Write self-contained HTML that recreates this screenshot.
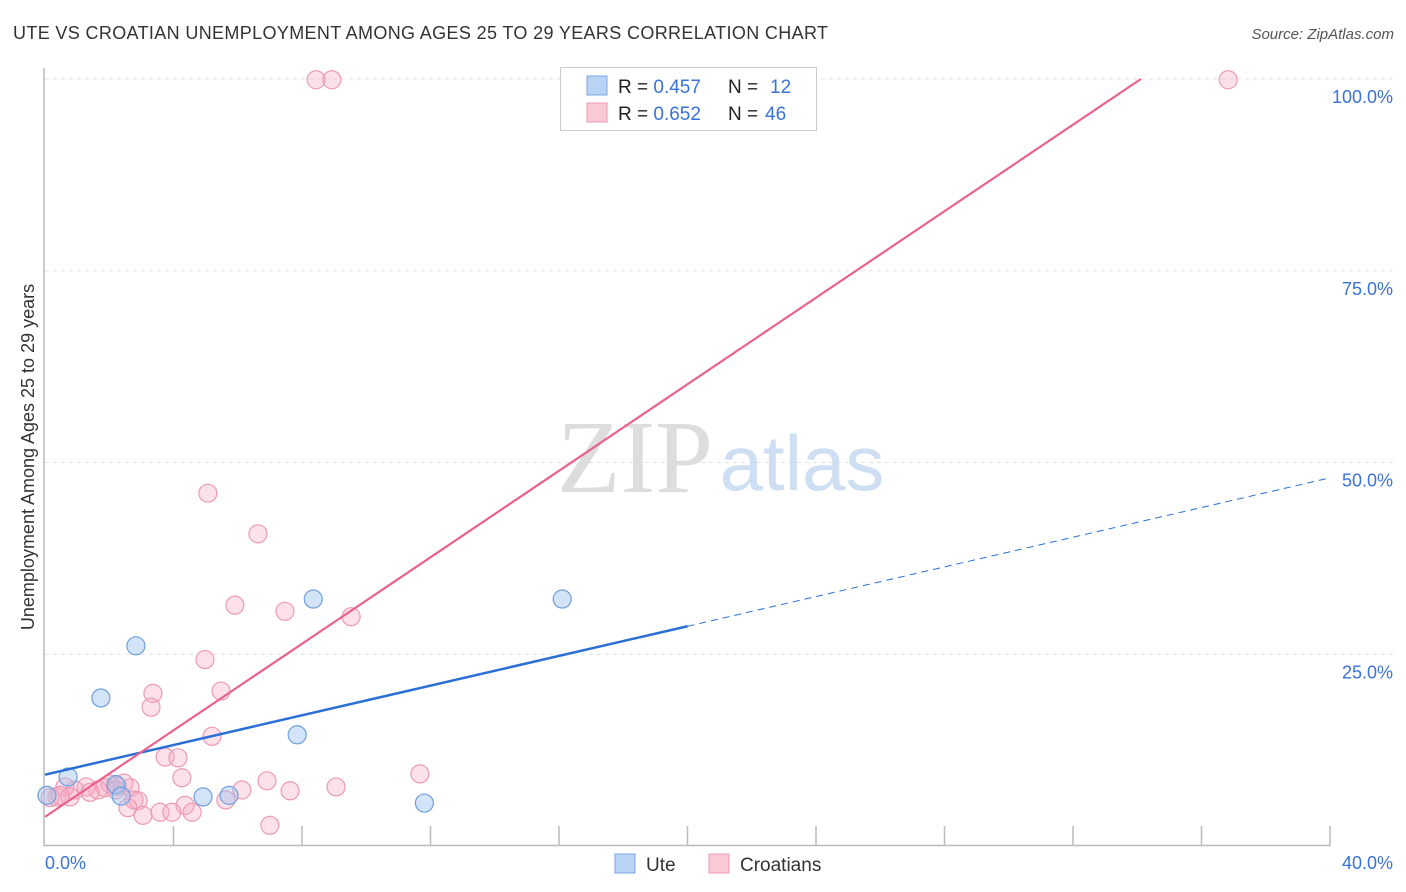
<!DOCTYPE html>
<html><head><meta charset="utf-8"><style>
body{margin:0;background:#fff;font-family:"Liberation Sans",sans-serif;}
svg{display:block}
</style></head><body>
<svg id="c" width="1406" height="892" xmlns="http://www.w3.org/2000/svg">
<text x="13" y="39" font-size="18" fill="#333" textLength="815">UTE VS CROATIAN UNEMPLOYMENT AMONG AGES 25 TO 29 YEARS CORRELATION CHART</text>
<text x="1394" y="39" font-size="15" fill="#555" font-style="italic" text-anchor="end">Source: ZipAtlas.com</text>
<g id="grid"></g>
<g>
<text x="635" y="492" font-size="104" font-family="Liberation Serif,serif" fill="#ddd" text-anchor="middle">ZIP</text>
<text x="802" y="490" font-size="78" fill="#cfdff3" text-anchor="middle">atlas</text>
</g>
<line x1="44" y1="68" x2="44" y2="846" stroke="#bbb" stroke-width="1.5"/>
<line x1="44" y1="845.5" x2="1330" y2="845.5" stroke="#bbb" stroke-width="1.5"/>
<text transform="translate(34,457) rotate(-90)" font-size="18" fill="#333" text-anchor="middle">Unemployment Among Ages 25 to 29 years</text>
<text x="45" y="869" font-size="18" fill="#3a72d8">0.0%</text>
<text x="1393" y="869" font-size="18" fill="#3a72d8" text-anchor="end">40.0%</text>
<g id="pts"></g>
<g id="lines"></g>
<g>
<rect x="560.5" y="67.5" width="256" height="63" fill="#fff" stroke="#ccc"/>
<rect x="587" y="76" width="20" height="19" fill="#b9d3f5" stroke="#7aa7e6"/>
<text x="618" y="93" font-size="19" fill="#222">R = <tspan fill="#3a72d8">0.457</tspan><tspan x="728">N = </tspan><tspan x="770" fill="#3a72d8">12</tspan></text>
<rect x="587" y="103" width="20" height="19" fill="#f9c9d6" stroke="#ec9ab2"/>
<text x="618" y="120" font-size="19" fill="#222">R = <tspan fill="#3a72d8">0.652</tspan><tspan x="728">N = </tspan><tspan x="765" fill="#3a72d8">46</tspan></text>
</g>
<g>
<rect x="615" y="854" width="20" height="19" fill="#b9d3f5" stroke="#7aa7e6"/>
<text x="646" y="871" font-size="19" fill="#333">Ute</text>
<rect x="709" y="854" width="20" height="19" fill="#f9c9d6" stroke="#ec9ab2"/>
<text x="740" y="871" font-size="19" fill="#333">Croatians</text>
</g>
</svg>
<script>
const yTicks=[25,50,75,100];
const yTickLabels=["25.0%","50.0%","75.0%","100.0%"];
const xTicks=[4,8,12,16,20,24,28,32,36,40];
const uteX=[0.06,0.72,1.74,2.21,2.37,2.83,4.92,5.73,7.85,8.35,11.81,16.1];
const uteY=[6.6,9.0,19.3,8.0,6.5,26.1,6.4,6.6,14.5,32.2,5.6,32.2];
const croX=[8.44,8.93,36.83,5.07,6.63,5.91,7.47,9.53,4.98,3.36,5.48,3.30,5.20,3.74,4.14,4.26,11.67,6.91,9.06,7.63,6.13,2.65,2.77,2.02,1.65,1.28,0.93,0.62,0.37,0.16,0.78,1.87,2.24,2.46,2.90,2.58,3.05,3.58,4.36,4.58,5.63,7.00,3.95,2.21,1.40,0.47];
const croY=[99.9,99.9,99.9,46.0,40.7,31.4,30.6,29.9,24.3,19.9,20.2,18.1,14.3,11.6,11.5,8.9,9.4,8.5,7.7,7.2,7.3,7.6,6.0,8.1,7.3,7.7,7.3,7.7,6.4,6.3,6.4,7.6,7.8,8.2,5.9,5.0,4.0,4.4,5.3,4.4,6.0,2.7,4.4,7.3,7.0,6.6];
const uteLine=[9.3,48.0]; // y at x=0 and x=40
const croLine=[3.8,2.82]; // intercept, slope
const X=v=>45+v/40*1285, Y=v=>846-v/100*767;
const NS="http://www.w3.org/2000/svg";
function mk(t,a,p){const e=document.createElementNS(NS,t);for(const k in a)e.setAttribute(k,a[k]);p.appendChild(e);return e;}
const grid=document.getElementById('grid');
yTicks.forEach((v,i)=>{
 const l=mk('line',{x1:45,x2:1395,y1:Y(v),y2:Y(v),stroke:'#e3e3e3','stroke-dasharray':'4,4'},grid);
 
 
 const t=mk('text',{x:1393,y:Y(v)+24,'font-size':18,fill:'#3a72d8','text-anchor':'end'},grid);
 t.textContent=yTickLabels[i];
 
 
});
xTicks.forEach(v=>{
 const l=mk('line',{x1:X(v),x2:X(v),y1:826,y2:846,stroke:'#bbb','stroke-width':1.5},grid);
 
 
});
const pts=document.getElementById('pts');
croX.forEach((v,i)=>{
 const c=mk('circle',{cx:X(v),cy:Y(croY[i]),r:9,fill:'rgba(246,170,195,0.35)',stroke:'#ec9ab2','stroke-width':1.2},pts);
 
 
});
uteX.forEach((v,i)=>{
 const c=mk('circle',{cx:X(v),cy:Y(uteY[i]),r:9,fill:'rgba(160,196,240,0.45)',stroke:'#6f9fe0','stroke-width':1.2},pts);
 
 
});
const lines=document.getElementById('lines');
const uy=x=>uteLine[0]+(uteLine[1]-uteLine[0])*x/40;
let a=mk('line',{x1:X(0),y1:Y(uy(0)),x2:X(20),y2:Y(uy(20)),stroke:'#2a6fd6','stroke-width':2.5},lines);


a=mk('line',{x1:X(20),y1:Y(uy(20)),x2:X(40),y2:Y(uy(40)),stroke:'#2a6fd6','stroke-width':1,'stroke-dasharray':'7,5'},lines);


const xe=(100-croLine[0])/croLine[1];
a=mk('line',{x1:X(0),y1:Y(croLine[0]),x2:X(xe),y2:Y(100),stroke:'#e8628c','stroke-width':2.2},lines);


</script>
</body></html>
